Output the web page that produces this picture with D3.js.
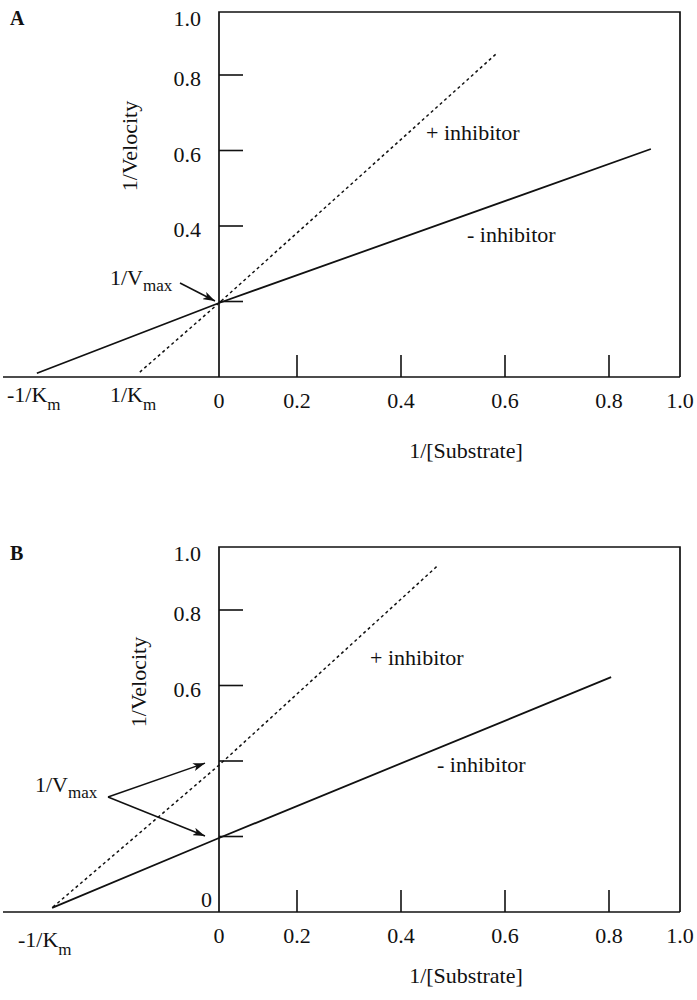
<!DOCTYPE html>
<meta charset="utf-8">
<style>
    html, body { margin: 0; background: #fff; }
    svg { display: block; font-family: "Liberation Serif", "Times New Roman", serif; }
    .frame { fill: none; stroke: #111; stroke-width: 1.7px; }
    .tick { stroke: #111; stroke-width: 1.6px; }
    .minus { fill: none; stroke: #111; stroke-width: 1.8px; }
    .plus { fill: none; stroke: #111; stroke-width: 1.5px; stroke-dasharray: 3, 3; }
    .lbl { font-size: 22px; fill: #111; }
    .sub { font-size: 17px; }
    .panel { font-size: 20px; font-weight: bold; fill: #111; }
    .arrow { stroke: #111; stroke-width: 1.5px; fill: none; }
</style>
<body>
<script src="https://d3js.org/d3.v7.min.js"></script>
<script>

    // ticks
    var xTickMarks = [0.2, 0.4, 0.6, 0.8];
    var xTickLabels = [0, 0.2, 0.4, 0.6, 0.8, 1.0];
    var yTickMarks = [0.2, 0.4, 0.6, 0.8];
    var yTickLabelsA = [1.0, 0.8, 0.6, 0.4];
    var yTickLabelsB = [1.0, 0.8, 0.6];

    // A: competitive inhibition (same 1/Vmax, different 1/Km)
    var minusA = [[-0.467, 0.01], [0, 0.196], [0.918, 0.604]];
    var plusA = [[-0.203, 0.013], [0, 0.196], [0.585, 0.87]];

    // B: noncompetitive inhibition (same 1/Km, different 1/Vmax)
    var minusB = [[-0.428, 0.011], [0, 0.196], [0.806, 0.622]];
    var plusB = [[-0.426, 0.013], [0, 0.389], [0.47, 0.94]];

    var width = 697, height = 1000;

    // hand drawn schematic: axis spacing is not uniform, so piecewise scales
    var x = d3.scaleLinear().domain([0, 0.2, 0.8, 1]).range([219, 297, 609, 680]);
    var y = d3.scaleLinear().domain([0, 0.8, 1]).range([377, 75, 12]);

    var fmt = function (d) { return d === 0 ? "0" : d3.format(".1f")(d); };

    var svg = d3.select("body").append("svg")
        .attr("width", width)
        .attr("height", height);

    svg.append("rect").attr("width", width).attr("height", height).attr("fill", "#fff");

    var defs = svg.append("defs");
    defs.append("marker")
        .attr("id", "head")
        .attr("viewBox", "0 0 12 8")
        .attr("refX", 12).attr("refY", 4)
        .attr("markerWidth", 12).attr("markerHeight", 8)
        .attr("markerUnits", "userSpaceOnUse")
        .attr("orient", "auto")
        .append("path")
        .attr("d", "M0,0L12,4L0,8L3,4Z")
        .attr("fill", "#111");

    var panels = [
        {
            name: "A", top: 0, minus: minusA, plus: plusA, yLabels: yTickLabelsA, zeroLabel: false,
            km: [{ x: 7, y: 402, neg: true }, { x: 110, y: 402, neg: false }],
            vmax: { x: 110, y: 285, arrows: [{ from: [180, 283], to: 0.196, dx: 4 }] },
            plusText: [426, 140], minusText: [467, 242],
            yTitle: [137, 146], xTitle: [466, 458]
        },
        {
            name: "B", top: 535, minus: minusB, plus: plusB, yLabels: yTickLabelsB, zeroLabel: true,
            km: [{ x: 18, y: 412, neg: true }],
            vmax: { x: 35, y: 257, arrows: [{ from: [108, 262], to: 0.389, dx: 14 }, { from: [108, 262], to: 0.196, dx: 14 }] },
            plusText: [370, 130], minusText: [437, 237],
            yTitle: [146, 147], xTitle: [466, 448]
        }
    ];

    var line = d3.line()
        .x(function (d) { return x(d[0]); })
        .y(function (d) { return y(d[1]); });

    panels.forEach(function (p) {
        var g = svg.append("g").attr("transform", "translate(0," + p.top + ")");

        g.append("text").attr("class", "panel").attr("x", 10).attr("y", 25).text(p.name);

        // frame: left, top, right + long baseline
        g.append("path").attr("class", "frame")
            .attr("d", "M" + x(0) + "," + y(0) + "V" + y(1) + "H" + x(1) + "V" + y(0));
        g.append("line").attr("class", "frame")
            .attr("x1", 3).attr("x2", x(1)).attr("y1", y(0)).attr("y2", y(0));

        // ticks point inward
        g.selectAll(".xt").data(xTickMarks).enter().append("line")
            .attr("class", "tick")
            .attr("x1", x).attr("x2", x)
            .attr("y1", y(0)).attr("y2", y(0) - 22);
        g.selectAll(".yt").data(yTickMarks).enter().append("line")
            .attr("class", "tick")
            .attr("x1", x(0)).attr("x2", x(0) + 24)
            .attr("y1", y).attr("y2", y);

        g.selectAll(".xl").data(xTickLabels).enter().append("text")
            .attr("class", "lbl")
            .attr("x", x).attr("y", 408)
            .attr("text-anchor", "middle")
            .text(fmt);
        g.selectAll(".yl").data(p.yLabels).enter().append("text")
            .attr("class", "lbl")
            .attr("x", 201)
            .attr("y", function (d) { return (d === 1 ? y(d) + 6 : y(d) + 3) + 8; })
            .attr("text-anchor", "end")
            .text(fmt);
        if (p.zeroLabel) {
            g.append("text").attr("class", "lbl")
                .attr("x", 212).attr("y", y(0) - 5)
                .attr("text-anchor", "end").text("0");
        }

        // lines
        g.append("path").datum(p.plus).attr("class", "plus").attr("d", line);
        g.append("path").datum(p.minus).attr("class", "minus").attr("d", line);

        // km labels
        p.km.forEach(function (k) {
            var t = g.append("text").attr("class", "lbl").attr("x", k.x).attr("y", k.y);
            t.append("tspan").text(k.neg ? "-1/K" : "1/K");
            t.append("tspan").attr("class", "sub").attr("dy", 8).text("m");
        });

        // 1/Vmax label + arrows
        var vt = g.append("text").attr("class", "lbl").attr("x", p.vmax.x).attr("y", p.vmax.y);
        vt.append("tspan").text("1/V");
        vt.append("tspan").attr("class", "sub").attr("dy", 6).text("max");
        p.vmax.arrows.forEach(function (a) {
            g.append("line").attr("class", "arrow")
                .attr("x1", a.from[0]).attr("y1", a.from[1])
                .attr("x2", x(0) - a.dx).attr("y2", y(a.to) - 2)
                .attr("marker-end", "url(#head)");
        });

        g.append("text").attr("class", "lbl")
            .attr("x", p.plusText[0]).attr("y", p.plusText[1]).text("+ inhibitor");
        g.append("text").attr("class", "lbl")
            .attr("x", p.minusText[0]).attr("y", p.minusText[1]).text("- inhibitor");

        g.append("text").attr("class", "lbl")
            .attr("transform", "translate(" + p.yTitle[0] + "," + p.yTitle[1] + ") rotate(-90)")
            .attr("text-anchor", "middle").text("1/Velocity");
        g.append("text").attr("class", "lbl")
            .attr("x", p.xTitle[0]).attr("y", p.xTitle[1])
            .attr("text-anchor", "middle").text("1/[Substrate]");
    });

</script>
</body>
